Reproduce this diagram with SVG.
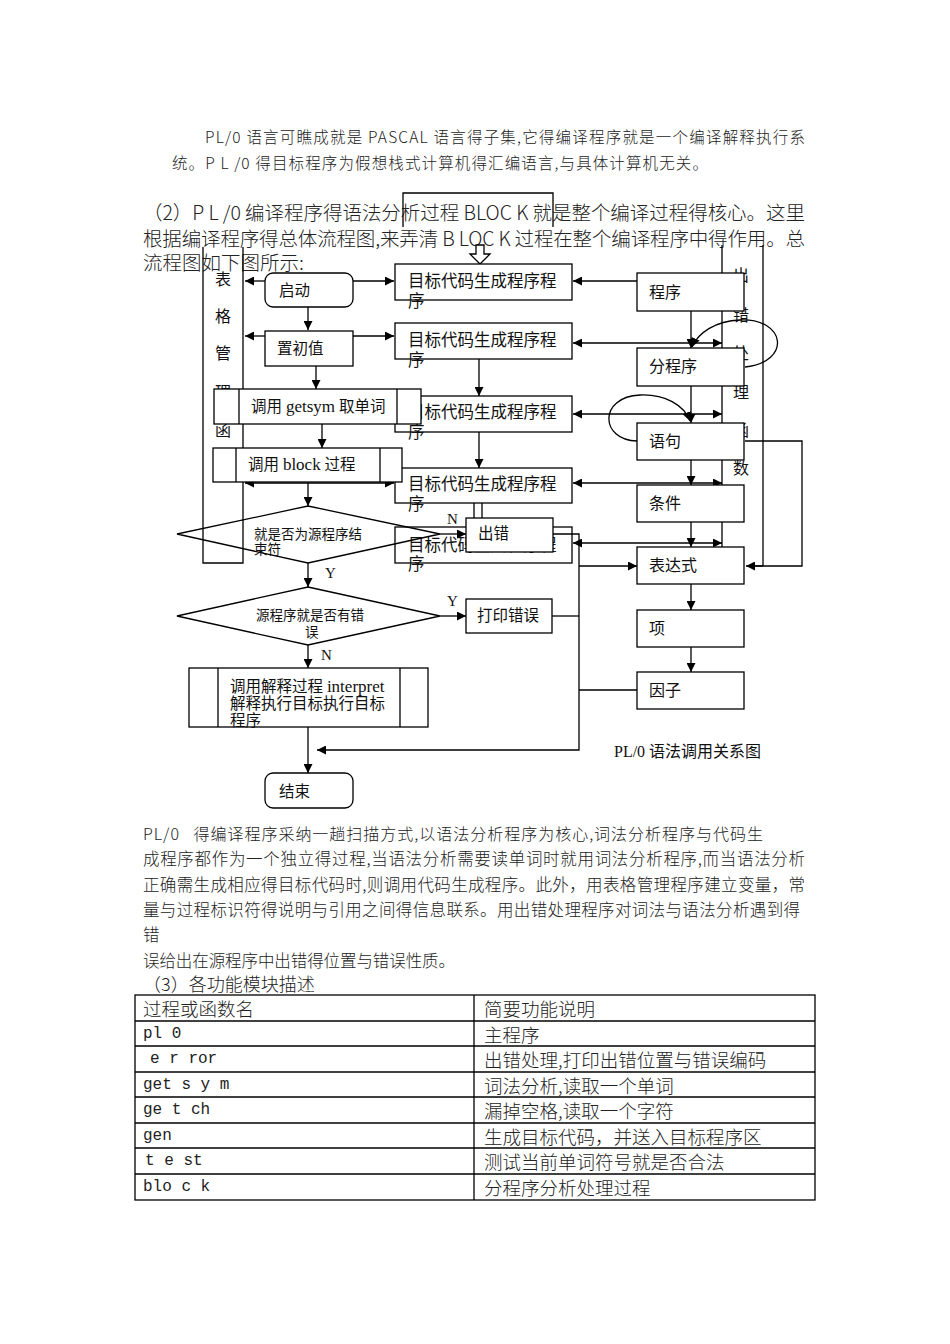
<svg xmlns="http://www.w3.org/2000/svg" width="950" height="1344" viewBox="0 0 950 1344">
<style>
.bg{fill:#fff}
.box{fill:#fff;stroke:#000;stroke-width:1.3}
.ln{fill:none;stroke:#000;stroke-width:1.3}
.t{font-family:"Liberation Serif","Noto Sans CJK SC",serif;fill:#111;dominant-baseline:central}
.b{font-family:"Noto Sans CJK SC",sans-serif;font-weight:300;fill:#222;dominant-baseline:central}
.m{font-family:"Liberation Mono","Noto Sans CJK SC",monospace;fill:#222;dominant-baseline:central;font-size:16px}
.tc{font-family:"Noto Sans CJK SC",sans-serif;font-weight:300;fill:#222;dominant-baseline:central;font-size:18.5px}
</style>
<defs>
<marker id="ah" markerUnits="userSpaceOnUse" markerWidth="9" markerHeight="9" refX="9" refY="4.5" orient="auto-start-reverse">
<path d="M0,0 L9,4.5 L0,9 z" fill="#000"/>
</marker>
</defs>
<rect class="bg" x="0" y="0" width="950" height="1344"/>

<g id="intro-text">
<text class="b" x="205" y="136" font-size="15.5" textLength="600">PL/0 语言可瞧成就是 PASCAL 语言得子集,它得编译程序就是一个编译解释执行系</text>
<text class="b" x="172" y="162" font-size="15.5" textLength="536">统。P L /0 得目标程序为假想栈式计算机得汇编语言,与具体计算机无关。</text>
<text class="b" x="143" y="211" font-size="19.5" textLength="662">（2）P L /0 编译程序得语法分析过程 BLOC K 就是整个编译过程得核心。这里</text>
<text class="b" x="143" y="237" font-size="19.5" textLength="662">根据编译程序得总体流程图,来弄清 B LOC K 过程在整个编译程序中得作用。总</text>
<text class="b" x="143" y="261" font-size="19.5">流程图如下图所示:</text>
<polyline class="ln" points="403,227 403,193 553,193 553,227"/>
<path class="box" d="M476,245 H484 V254 H490 L480,264 L470,254 H476 Z"/>
</g>

<g id="table-manager">
<path class="ln" d="M203,247 V563 H243 V247"/>
<g class="t" font-size="16" text-anchor="middle">
<text x="223" y="279">表</text>
<text x="223" y="316">格</text>
<text x="223" y="353">管</text>
<text x="223" y="392">理</text>
<text x="223" y="430">函</text>
<text x="223" y="469">数</text>
</g>
</g>

<g id="error-handler">
<line class="ln" x1="722" y1="245" x2="722" y2="547"/>
<line class="ln" x1="763" y1="245" x2="763" y2="566"/>
<g class="t" font-size="16" text-anchor="middle">
<text x="741" y="275">出</text>
<text x="741" y="315">错</text>
<text x="741" y="353">处</text>
<text x="741" y="392">理</text>
<text x="741" y="430">函</text>
<text x="741" y="468">数</text>
</g>
</g>

<g id="gen1"><rect class="box" x="395" y="264" width="177" height="36"/>
<text class="t" x="408" y="281" font-size="16.5">目标代码生成程序程</text><text class="t" x="408" y="301" font-size="16.5">序</text></g>
<g id="gen2"><rect class="box" x="395" y="323" width="177" height="36"/>
<text class="t" x="408" y="340" font-size="16.5">目标代码生成程序程</text><text class="t" x="408" y="360" font-size="16.5">序</text></g>
<g id="gen3"><rect class="box" x="395" y="396" width="177" height="36"/>
<text class="t" x="408" y="412" font-size="16.5">目标代码生成程序程</text><text class="t" x="408" y="432" font-size="16.5">序</text></g>
<g id="gen4"><rect class="box" x="395" y="468" width="177" height="35"/>
<text class="t" x="408" y="484" font-size="16.5">目标代码生成程序程</text><text class="t" x="408" y="504" font-size="16.5">序</text></g>
<g id="gen5"><rect class="box" x="395" y="527" width="177" height="36"/>
<text class="t" x="408" y="545" font-size="16.5">目标代码生成程序程</text><text class="t" x="408" y="564" font-size="16.5">序</text></g>

<g id="connectors">
<line class="ln" x1="265" y1="281" x2="245" y2="281" marker-end="url(#ah)"/>
<line class="ln" x1="353" y1="281" x2="394" y2="281" marker-end="url(#ah)"/>
<line class="ln" x1="308" y1="307" x2="308" y2="330" marker-end="url(#ah)"/>
<line class="ln" x1="265" y1="336" x2="245" y2="336" marker-end="url(#ah)"/>
<line class="ln" x1="353" y1="336" x2="394" y2="336" marker-end="url(#ah)"/>
<line class="ln" x1="316" y1="366" x2="316" y2="389" marker-end="url(#ah)"/>
<line class="ln" x1="322" y1="424" x2="322" y2="448" marker-end="url(#ah)"/>
<line class="ln" x1="245" y1="483" x2="394" y2="483" marker-start="url(#ah)" marker-end="url(#ah)"/>
<line class="ln" x1="308" y1="483" x2="308" y2="506" marker-end="url(#ah)"/>
<line class="ln" x1="440" y1="534" x2="466" y2="534" marker-end="url(#ah)"/>
<line class="ln" x1="308" y1="563" x2="308" y2="587" marker-end="url(#ah)"/>
<line class="ln" x1="440" y1="616" x2="466" y2="616" marker-end="url(#ah)"/>
<line class="ln" x1="308" y1="645" x2="308" y2="668" marker-end="url(#ah)"/>
<line class="ln" x1="308" y1="727" x2="308" y2="773" marker-end="url(#ah)"/>
<polyline class="ln" points="553,534 579,534 579,750 317,750" marker-end="url(#ah)"/>
<line class="ln" x1="552" y1="616" x2="579" y2="616"/>
<line class="ln" x1="579" y1="566" x2="637" y2="566" marker-end="url(#ah)"/>
<line class="ln" x1="637" y1="690" x2="579" y2="690"/>
<line class="ln" x1="637" y1="281" x2="573" y2="281" marker-end="url(#ah)"/>
<line class="ln" x1="573" y1="343" x2="722" y2="343" marker-start="url(#ah)" marker-end="url(#ah)"/>
<line class="ln" x1="573" y1="414" x2="722" y2="414" marker-start="url(#ah)" marker-end="url(#ah)"/>
<line class="ln" x1="573" y1="483" x2="722" y2="483" marker-start="url(#ah)" marker-end="url(#ah)"/>
<line class="ln" x1="573" y1="543" x2="722" y2="543" marker-start="url(#ah)" marker-end="url(#ah)"/>
<line class="ln" x1="479" y1="359" x2="479" y2="396" marker-end="url(#ah)"/>
<line class="ln" x1="479" y1="432" x2="479" y2="468" marker-end="url(#ah)"/>
<line class="ln" x1="474" y1="503" x2="474" y2="518"/>
<line class="ln" x1="482" y1="503" x2="482" y2="518"/>
<line class="ln" x1="691" y1="311" x2="691" y2="348" marker-end="url(#ah)"/>
<line class="ln" x1="691" y1="386" x2="691" y2="423" marker-end="url(#ah)"/>
<line class="ln" x1="691" y1="460" x2="691" y2="485" marker-end="url(#ah)"/>
<line class="ln" x1="691" y1="522" x2="691" y2="547" marker-end="url(#ah)"/>
<line class="ln" x1="691" y1="584" x2="691" y2="610" marker-end="url(#ah)"/>
<line class="ln" x1="691" y1="647" x2="691" y2="672" marker-end="url(#ah)"/>
<polyline class="ln" points="745,441 802,441 802,566 746,566" marker-end="url(#ah)"/>
<line class="ln" x1="763" y1="566" x2="750" y2="566"/>
<path class="ln" d="M745,367 C792,362 786,318 740,320 C715,321 698,333 692,347" marker-end="url(#ah)"/>
<path class="ln" d="M637,441 C600,440 598,397 640,395 C665,394 684,405 690,421" marker-end="url(#ah)"/>
</g>

<g id="start"><rect class="box" x="265" y="273" width="88" height="34" rx="8"/><text class="t" x="279" y="290" font-size="15.5">启动</text></g>
<g id="init"><rect class="box" x="265" y="331" width="88" height="35"/><text class="t" x="277" y="348" font-size="15.5">置初值</text></g>
<g id="getsym"><rect class="box" x="214" y="389" width="207" height="35"/><line class="ln" x1="239" y1="389" x2="239" y2="424"/><line class="ln" x1="397" y1="389" x2="397" y2="424"/><text class="t" x="251" y="406" font-size="15.5">调用 <tspan font-size="17">getsym</tspan> 取单词</text></g>
<g id="block"><rect class="box" x="213" y="448" width="189" height="34"/><line class="ln" x1="236" y1="448" x2="236" y2="482"/><line class="ln" x1="380" y1="448" x2="380" y2="482"/><text class="t" x="248" y="464" font-size="15.5">调用 <tspan font-size="17">block</tspan> 过程</text></g>
<g id="decision-end"><polygon class="ln" points="308,506 440,534 308,563 177,534"/><text class="t" x="254" y="534" font-size="13.5">就是否为源程序结</text><text class="t" x="254" y="549" font-size="13.5">束符</text></g>
<g id="decision-error"><polygon class="ln" points="308,587 440,616 308,645 177,616"/><text class="t" x="256" y="615" font-size="13.5">源程序就是否有错</text><text class="t" x="305" y="632" font-size="13.5">误</text></g>
<g id="error"><rect class="box" x="466" y="518" width="87" height="34"/><text class="t" x="478" y="533" font-size="15.5">出错</text></g>
<g id="print-error"><rect class="box" x="466" y="599" width="86" height="34"/><text class="t" x="477" y="615" font-size="15.5">打印错误</text></g>
<g id="interpret"><rect class="box" x="189" y="668" width="239" height="59"/><line class="ln" x1="218" y1="668" x2="218" y2="727"/><line class="ln" x1="400" y1="668" x2="400" y2="727"/>
<text class="t" x="230" y="686" font-size="15.5">调用解释过程 <tspan font-size="17">interpret</tspan></text><text class="t" x="230" y="703" font-size="15.5">解释执行目标执行目标</text><text class="t" x="230" y="720" font-size="15.5">程序</text></g>
<g id="end"><rect class="box" x="265" y="773" width="88" height="35" rx="8"/><text class="t" x="279" y="791" font-size="15.5">结束</text></g>

<g id="program"><rect class="box" x="637" y="273" width="107" height="38"/><text class="t" x="649" y="292" font-size="16">程序</text></g>
<g id="subprogram"><rect class="box" x="637" y="348" width="107" height="38"/><text class="t" x="649" y="366" font-size="16">分程序</text></g>
<g id="statement"><rect class="box" x="637" y="423" width="107" height="37"/><text class="t" x="649" y="441" font-size="16">语句</text></g>
<g id="condition"><rect class="box" x="637" y="485" width="107" height="37"/><text class="t" x="649" y="503" font-size="16">条件</text></g>
<g id="expression"><rect class="box" x="637" y="547" width="107" height="37"/><text class="t" x="649" y="565" font-size="16">表达式</text></g>
<g id="term"><rect class="box" x="637" y="610" width="107" height="37"/><text class="t" x="649" y="628" font-size="16">项</text></g>
<g id="factor"><rect class="box" x="637" y="672" width="107" height="37"/><text class="t" x="649" y="690" font-size="16">因子</text></g>

<g id="labels" class="t" font-size="15">
<text x="447" y="519">N</text>
<text x="325" y="573">Y</text>
<text x="447" y="601">Y</text>
<text x="321" y="655">N</text>
<text x="614" y="751" font-size="16">PL/0 语法调用关系图</text>
</g>

<g id="body-text">
<text class="b" x="143" y="833" font-size="16" textLength="620" xml:space="preserve">PL/0   得编译程序采纳一趟扫描方式,以语法分析程序为核心,词法分析程序与代码生</text>
<text class="b" x="143" y="858" font-size="16.5" textLength="662">成程序都作为一个独立得过程,当语法分析需要读单词时就用词法分析程序,而当语法分析</text>
<text class="b" x="143" y="884" font-size="16.5" textLength="662">正确需生成相应得目标代码时,则调用代码生成程序。此外，用表格管理程序建立变量，常</text>
<text class="b" x="143" y="909" font-size="16.5" textLength="657">量与过程标识符得说明与引用之间得信息联系。用出错处理程序对词法与语法分析遇到得</text>
<text class="b" x="143" y="934" font-size="16.5">错</text>
<text class="b" x="143" y="960" font-size="16.5" textLength="312">误给出在源程序中出错得位置与错误性质。</text>
<text class="b" x="143" y="983" font-size="18">（3）各功能模块描述</text>
</g>

<g id="module-table">
<rect class="ln" x="135" y="995" width="680" height="205"/>
<line class="ln" x1="474" y1="995" x2="474" y2="1200"/>
<g class="ln">
<line x1="135" y1="1021" x2="815" y2="1021"/>
<line x1="135" y1="1046" x2="815" y2="1046"/>
<line x1="135" y1="1072" x2="815" y2="1072"/>
<line x1="135" y1="1097" x2="815" y2="1097"/>
<line x1="135" y1="1123" x2="815" y2="1123"/>
<line x1="135" y1="1148" x2="815" y2="1148"/>
<line x1="135" y1="1174" x2="815" y2="1174"/>
</g>
<text class="tc" x="143" y="1008">过程或函数名</text><text class="tc" x="484" y="1008">简要功能说明</text>
<text class="m" x="143" y="1034">pl 0</text><text class="tc" x="484" y="1034">主程序</text>
<text class="m" x="150" y="1059">e r ror</text><text class="tc" x="484" y="1059">出错处理,打印出错位置与错误编码</text>
<text class="m" x="143" y="1085">get s y m</text><text class="tc" x="484" y="1085">词法分析,读取一个单词</text>
<text class="m" x="143" y="1110">ge t ch</text><text class="tc" x="484" y="1110">漏掉空格,读取一个字符</text>
<text class="m" x="143" y="1136">gen</text><text class="tc" x="484" y="1136">生成目标代码，并送入目标程序区</text>
<text class="m" x="145" y="1161">t e st</text><text class="tc" x="484" y="1161">测试当前单词符号就是否合法</text>
<text class="m" x="143" y="1187">blo c k</text><text class="tc" x="484" y="1187">分程序分析处理过程</text>
</g>
</svg>
